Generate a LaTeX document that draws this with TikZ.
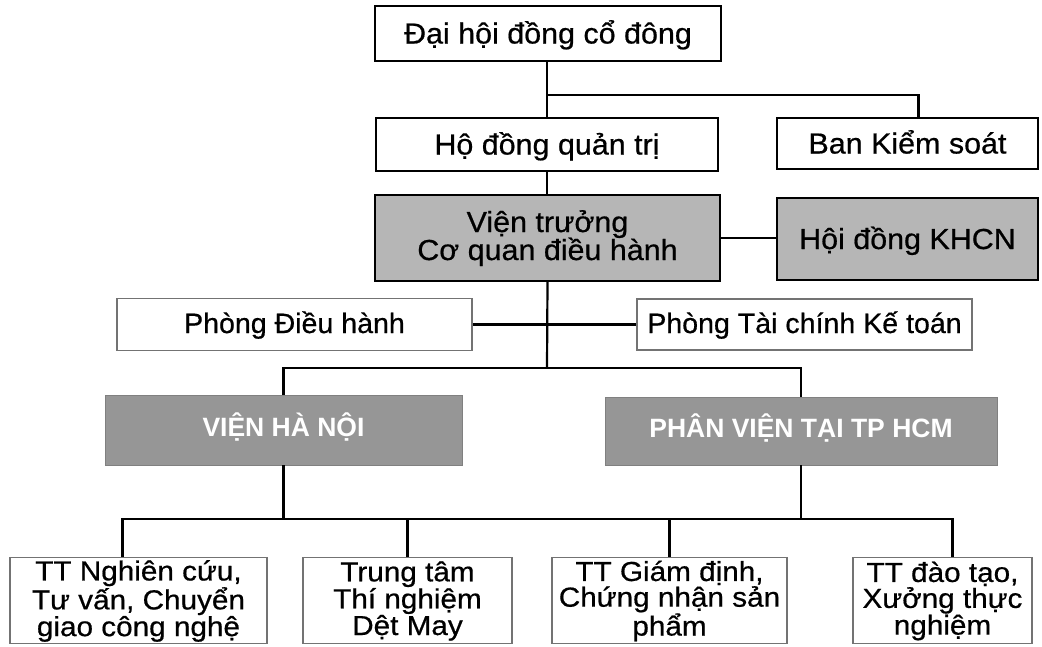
\documentclass[tikz,border=0pt]{standalone}
\usepackage{fontspec}
\setmainfont{Liberation Sans}
\newfontfamily\wa[FakeStretch=1.05, FakeBold=0.6]{Liberation Sans}
\newfontfamily\wb[FakeStretch=1.02, FakeBold=0.6]{Liberation Sans}
\newfontfamily\wbot[FakeStretch=1.08, FakeBold=0.6]{Liberation Sans}
\newfontfamily\wc{Liberation Sans}
\definecolor{lightg}{RGB}{182,182,182}
\definecolor{darkg}{RGB}{150,150,150}
\tikzset{
  box/.style={draw=black, line width=2.2pt, inner sep=0pt, text height=22pt, text depth=2pt,
              font=\wa\fontsize{29}{28}\selectfont},
  gbox/.style={draw=black, line width=2.2pt, inner sep=0pt, fill=lightg},
  pbox/.style={draw=black!55, line width=1.6pt, inner sep=0pt, text height=21pt, text depth=4pt,
              font=\wb\fontsize{28}{28}\selectfont},
  dbox/.style={fill=darkg, draw=darkg!85!black, line width=0.8pt, inner sep=0pt, text=white,
              text height=18pt, text depth=6pt, font=\wc\bfseries\fontsize{26.5}{28}\selectfont},
  bbox/.style={draw=black!55, line width=1.6pt, inner sep=0pt},
  btext/.style={align=center, inner sep=0pt, font=\wbot\fontsize{27.5}{24}\selectfont},
  gtext/.style={anchor=base, inner sep=0pt, font=\wa\fontsize{29}{28}\selectfont},
  conn/.style={draw=black, line width=2.2pt}
}
\begin{document}
\begin{tikzpicture}[x=1pt, y=-1pt]
\useasboundingbox (0,0) rectangle (1042,646);
\fill[white] (0,0) rectangle (1042,646);

% boxes
\node[box, minimum width=346pt, minimum height=55pt] (top) at (548,33.5) {Đại hội đồng  cổ đông};
\node[box, minimum width=342pt, minimum height=53pt] (hdqt) at (547,144.5) {Hộ đồng  quản trị};
\node[box, minimum width=261pt, minimum height=51pt] (bks) at (907.5,143.5) {Ban Kiểm soát};
\node[gbox, minimum width=345pt, minimum height=86pt] (vt) at (547.5,238) {};
\node[gtext] (vt1) at (547.5,232) {Viện trưởng};
\node[gtext] (vt2) at (547.5,260) {Cơ quan điều hành};
\node[box, fill=lightg, minimum width=261pt, minimum height=82pt] (khcn) at (907.5,239) {Hội đồng KHCN};

\node[pbox, minimum width=355pt, minimum height=52pt] (pdh) at (294.5,324.5) {Phòng Điều hành};
\node[pbox, minimum width=335pt, minimum height=51pt] (ptc) at (804.5,324.5) {Phòng Tài chính Kế toán};

\node[dbox, minimum width=357pt, minimum height=70pt] (vhn) at (283.5,430) {VIỆN HÀ NỘI};
\node[dbox, minimum width=392pt, minimum height=68pt] (pv) at (801,431) {PHÂN VIỆN TẠI TP HCM};

\node[bbox, minimum width=257pt, minimum height=86pt] (b1) at (138.5,600.5) {};
\node[bbox, minimum width=209pt, minimum height=86pt] (b2) at (407.5,600.5) {};
\node[bbox, minimum width=235pt, minimum height=86pt] (b3) at (669.5,600.5) {};
\node[bbox, minimum width=179pt, minimum height=86pt] (b4) at (942.5,600.5) {};
\node[btext] (t1) at (138.5,601) {TT Nghiên cứu,\\Tư vấn, Chuyển\\giao công nghệ};
\node[btext] (t2) at (407.5,601) {Trung tâm\\Thí nghiệm\\Dệt May};
\node[btext] (t3) at (669.5,601) {TT Giám định,\\Chứng nhận sản\\phẩm};
\node[btext] (t4) at (942.5,601) {TT đào tạo,\\Xưởng thực\\nghiệm};

% connectors
\coordinate (j1) at (547,95);
\coordinate (bus1) at (547,368);
\coordinate (bus2) at (547,519);
\draw[conn] (hdqt.north |- top.south) -- (hdqt.north);
\draw[conn] (j1) -| ([xshift=11pt]bks.north);
\draw[conn] (hdqt.south) -- (hdqt.south |- vt.north);
\draw[conn] (vt.east) -- (khcn.west |- vt.east);
\draw[conn] (vt.south) -- (bus1);
\draw[conn] (pdh.east) -- (pdh.east -| vt.south);
\draw[conn] (ptc.west) -- (ptc.west -| vt.south);
\draw[conn] (vhn.north) -- (vhn.north |- bus1) -- (pv.north |- bus1) -- (pv.north);
\draw[conn] (vhn.south) -- (vhn.south |- bus2);
\draw[conn] (pv.south) -- (pv.south |- bus2);
\draw[conn] ([xshift=-16pt]b1.north) -- ([xshift=-16pt]b1.north |- bus2) -- ([xshift=10pt]b4.north |- bus2) -- ([xshift=10pt]b4.north);
\draw[conn] (b2.north) -- (b2.north |- bus2);
\draw[conn] (b3.north) -- (b3.north |- bus2);
\end{tikzpicture}
\end{document}
